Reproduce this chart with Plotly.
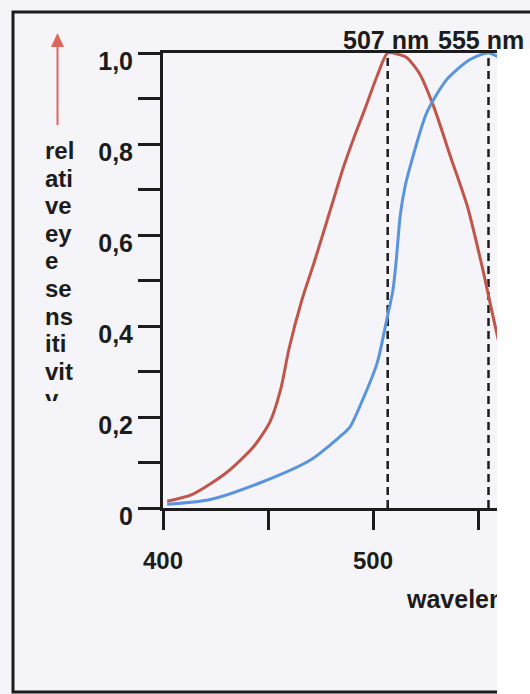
import plotly.graph_objects as go

# Relative eye sensitivity: scotopic (rod) vs photopic (cone) vision
wl_scotopic = [402, 414, 430, 443, 451, 456, 460, 466, 472, 480, 486, 491, 496, 502,
               507, 512, 516, 522, 529, 537, 545, 552, 560, 568, 576]
sens_scotopic = [0.015, 0.03, 0.077, 0.134, 0.19, 0.26, 0.35, 0.455, 0.54, 0.66,
                 0.75, 0.815, 0.875, 0.95, 1.0, 0.997, 0.99, 0.956, 0.881, 0.771,
                 0.662, 0.53, 0.363, 0.23, 0.13]

wl_photopic = [402, 422, 446, 470, 484, 489, 495, 502, 506.5, 509.5, 511, 513, 515.2,
               517.6, 525.5, 535, 546, 555, 565, 575]
sens_photopic = [0.008, 0.018, 0.055, 0.105, 0.156, 0.178, 0.237, 0.319, 0.413, 0.479,
                 0.541, 0.644, 0.705, 0.749, 0.868, 0.941, 0.985, 1.0, 0.975, 0.92]

peak_wavelengths = [507, 555]
peak_labels = ["507 nm", "555 nm"]

x_tickvals = [400, 450, 500, 550]
x_ticktext = ["400", "", "500", ""]
y_tickvals = [0, 0.1, 0.2, 0.3, 0.4, 0.5, 0.6, 0.7, 0.8, 0.9, 1.0]
y_ticktext = ["0", "", "0,2", "", "0,4", "", "0,6", "", "0,8", "", "1,0"]

ylabel_lines = ["rel", "ati", "ve", "ey", "e", "se", "ns", "iti", "vit", "y"]
xlabel = "wavelength"

W, H = 530, 694
INK = "#1c1c1c"
PAPER = "#f5f5f9"
FONT = "Liberation Sans, Arial, sans-serif"

# page geometry in pixels
ax_left, ax_top, ax_bottom = 163, 53, 508
px_per_nm = 2.1

fig = go.Figure()

# dashed markers at the two sensitivity maxima
for wl in peak_wavelengths:
    fig.add_trace(go.Scatter(
        x=[wl, wl], y=[0, 1.0], mode="lines",
        line=dict(color=INK, width=2.5, dash="8px,5px"),
        hoverinfo="skip", showlegend=False, xaxis="x", yaxis="y"))

fig.add_trace(go.Scatter(
    x=wl_scotopic, y=sens_scotopic, mode="lines",
    line=dict(color="#c0564a", width=3, shape="spline", smoothing=0.7),
    showlegend=False, xaxis="x", yaxis="y"))
fig.add_trace(go.Scatter(
    x=wl_photopic, y=sens_photopic, mode="lines",
    line=dict(color="#5a93de", width=3, shape="spline", smoothing=0.7),
    showlegend=False, xaxis="x", yaxis="y"))

# axis label texts on a full-page pixel overlay
label_y0, label_step = 153, 27.6
fig.add_trace(go.Scatter(
    x=[45] * len(ylabel_lines),
    y=[label_y0 + i * label_step for i in range(len(ylabel_lines))],
    text=ylabel_lines, mode="text", textposition="middle right",
    textfont=dict(family=FONT, size=24, color=INK, weight="bold"),
    hoverinfo="skip", showlegend=False, xaxis="x2", yaxis="y2"))
fig.add_trace(go.Scatter(
    x=[407], y=[602], text=[xlabel], mode="text", textposition="middle right",
    textfont=dict(family=FONT, size=25, color=INK, weight="bold"),
    hoverinfo="skip", showlegend=False, xaxis="x2", yaxis="y2"))

x_max = 400 + (W - ax_left) / px_per_nm

fig.update_layout(
    width=W, height=H,
    margin=dict(l=0, r=0, t=0, b=0, pad=0, autoexpand=False),
    paper_bgcolor=PAPER, plot_bgcolor="rgba(0,0,0,0)",
    showlegend=False,
    xaxis=dict(
        domain=[ax_left / W, 1], range=[400, x_max], anchor="y",
        showline=True, linecolor=INK, linewidth=3, mirror=True,
        ticks="outside", ticklen=19, tickwidth=3, tickcolor=INK,
        tickvals=x_tickvals, ticktext=x_ticktext, ticklabelstandoff=10,
        tickfont=dict(family=FONT, size=24, color=INK, weight="bold"),
        showgrid=False, zeroline=False, fixedrange=True, automargin=False),
    yaxis=dict(
        domain=[(H - ax_bottom) / H, (H - ax_top) / H], range=[0, 1], anchor="x",
        showline=True, linecolor=INK, linewidth=3,
        ticks="outside", ticklen=22, tickwidth=3, tickcolor=INK,
        tickvals=y_tickvals, ticktext=y_ticktext,
        ticklabelshift=8, ticklabelstandoff=0,
        tickfont=dict(family=FONT, size=25, color=INK, weight="bold"),
        showgrid=False, zeroline=False, fixedrange=True, automargin=False),
    xaxis2=dict(domain=[0, 1], range=[0, W], anchor="y2", visible=False,
                fixedrange=True, automargin=False),
    yaxis2=dict(domain=[0, 1], range=[H, 0], anchor="x2", visible=False,
                fixedrange=True, automargin=False),
)

for wl, txt, dx in zip(peak_wavelengths, peak_labels, [-2, -8]):
    fig.add_annotation(
        x=wl, y=1.0, xref="x", yref="y", text=txt, showarrow=False,
        xanchor="center", yanchor="bottom", xshift=dx, yshift=-3,
        font=dict(family=FONT, size=25, color=INK, weight="bold"))

shapes = [
    # red arrow pointing up along the sensitivity label
    dict(type="line", x0=57.5, x1=57.5, y0=125, y1=45,
         line=dict(color="#d8685c", width=2)),
    dict(type="path", path="M 51,47 L 57.5,33 L 64,47 Z",
         fillcolor="#d8685c", line=dict(width=0)),
    # outer frame
    dict(type="rect", x0=13, x1=580, y0=12, y1=692,
         line=dict(color=INK, width=3), fillcolor="rgba(0,0,0,0)"),
    # lower part of the last label line is hidden
    dict(type="rect", x0=36, x1=90, y0=401, y1=432,
         fillcolor=PAPER, line=dict(width=0)),
    # blank strip along the right-hand side
    dict(type="rect", x0=497, x1=560, y0=49, y1=720,
         fillcolor="#ffffff", line=dict(width=0)),
]
for s in shapes:
    s.update(xref="x2", yref="y2", layer="above")
    fig.add_shape(**s)

fig.write_html("out.html")
